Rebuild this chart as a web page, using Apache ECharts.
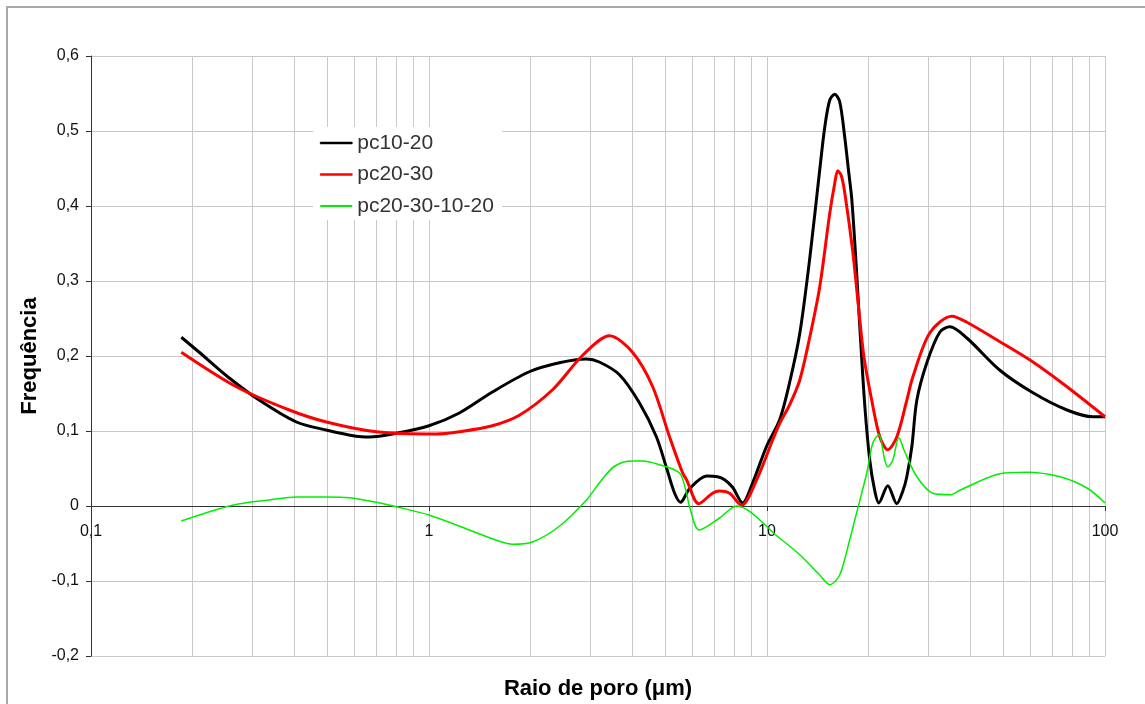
<!DOCTYPE html>
<html>
<head>
<meta charset="utf-8">
<script src="https://cdn.jsdelivr.net/npm/echarts@6/dist/echarts.min.js"></script>
<style>
html,body{margin:0;padding:0;background:#fff;}
#chart{width:1145px;height:704px;}
</style>
</head>
<body>
<div id="chart"></div>
<script>
// ---- data ----
var seriesNames = ['pc10-20', 'pc20-30', 'pc20-30-10-20'];

var blackX = [0.185,0.209,0.256,0.315,0.405,0.5,0.609,0.666,0.8,1.0,1.23,1.54,1.98,2.43,2.92,3.19,3.66,4.2,4.71,5.05,5.33,5.55,5.9,6.63,7.14,7.49,7.91,8.47,9.07,9.98,10.9,11.67,12.5,13.38,14.32,14.82,15.33,15.86,16.41,16.98,17.45,17.81,18.31,18.81,19.46,20.14,20.82,21.42,22.77,24.21,25.23,25.92,26.82,27.75,29.71,32.47,34.75,39.02,48.87,61.21,77.18,92.13,100];
var blackY = [0.225,0.205,0.171,0.141,0.112,0.101,0.093,0.092,0.097,0.107,0.124,0.152,0.179,0.191,0.196,0.192,0.175,0.137,0.092,0.05,0.017,0.005,0.023,0.040,0.039,0.035,0.025,0.004,0.031,0.08,0.115,0.165,0.23,0.33,0.448,0.505,0.541,0.549,0.539,0.492,0.445,0.41,0.33,0.24,0.135,0.061,0.021,0.004,0.027,0.003,0.02,0.039,0.079,0.141,0.191,0.232,0.239,0.224,0.181,0.151,0.128,0.119,0.119];

var redX = [0.185,0.269,0.386,0.497,0.698,1.051,1.23,1.54,1.85,2.32,2.85,3.42,4.0,4.59,5.15,5.63,5.78,6.28,6.9,7.24,7.75,8.41,9.32,10.39,10.9,11.67,12.5,13.38,14.32,15.33,15.86,16.19,16.6,16.98,17.93,18.56,19.34,20.41,21.57,22.77,24.21,25.92,27.0,30.33,35.23,39.02,48.87,61.21,77.18,100];
var redY = [0.205,0.159,0.128,0.112,0.099,0.096,0.099,0.107,0.121,0.155,0.201,0.227,0.205,0.159,0.092,0.044,0.035,0.003,0.017,0.02,0.017,0.001,0.035,0.088,0.11,0.135,0.168,0.225,0.292,0.39,0.43,0.447,0.44,0.418,0.34,0.275,0.2,0.141,0.092,0.075,0.092,0.141,0.172,0.231,0.253,0.245,0.219,0.192,0.159,0.119];

var greenX = [0.185,0.262,0.337,0.405,0.497,0.581,0.698,0.8,1.0,1.316,1.615,1.765,2.023,2.432,2.924,3.194,3.539,4.0,4.28,4.81,5.51,5.78,5.9,6.3,7.24,8.13,10.9,12.5,14.32,15.33,16.41,17.57,18.18,19.73,20.56,21.42,22.31,22.77,23.56,24.55,25.57,27.75,30.95,34.75,37.21,48.87,58.75,73.58,88.44,100];
var greenY = [-0.02,0.001,0.008,0.012,0.012,0.011,0.005,-0.001,-0.012,-0.032,-0.047,-0.051,-0.048,-0.027,0.008,0.031,0.053,0.06,0.06,0.055,0.044,0.017,-0.001,-0.032,-0.016,0.0,-0.043,-0.065,-0.092,-0.105,-0.092,-0.045,-0.019,0.044,0.084,0.095,0.061,0.052,0.061,0.091,0.072,0.039,0.017,0.015,0.021,0.043,0.045,0.039,0.024,0.004];

var xTickValues = [0.1, 1, 10, 100];
var xTickLabels = ['0,1', '1', '10', '100'];
var minorGridX = [0.2,0.3,0.4,0.5,0.6,0.7,0.8,0.9,2,3,4,5,6,7,8,9,20,30,40,50,60,70,80,90];
var yMin = -0.2, yMax = 0.6, yStep = 0.1;
var xTitle = 'Raio de poro (\u03bcm)';
var yTitle = 'Frequ\u00eancia';

function pairs(xs, ys) { return xs.map(function (x, i) { return [x, ys[i]]; }); }

var FONT = '"Liberation Sans", Arial, sans-serif';
var GRID_TOP = 56, GRID_BOTTOM = 48, GRID_H = 704 - GRID_TOP - GRID_BOTTOM;
// x axis drawn at the y = 0 line
var xAxisOffset = -GRID_H * (0 - yMin) / (yMax - yMin);

var chart = echarts.init(document.getElementById('chart'), null, { renderer: 'canvas' });

var option = {
  backgroundColor: '#ffffff',
  animation: false,
  grid: { left: 91, right: 40, top: GRID_TOP, bottom: GRID_BOTTOM, containLabel: false },
  legend: {
    z: 50,
    data: [
      { name: seriesNames[0], icon: 'rect', itemStyle: { color: '#000', borderColor: '#000', borderWidth: 0.5 } },
      { name: seriesNames[1], icon: 'rect', itemStyle: { color: '#ff0000', borderColor: '#ff0000', borderWidth: 0.5 } },
      { name: seriesNames[2], icon: 'rect', itemStyle: { color: '#00ee00', borderWidth: 0 } }
    ],
    orient: 'vertical',
    left: 313, top: 127,
    padding: [4, 8, 2, 7],
    backgroundColor: '#ffffff',
    itemWidth: 32, itemHeight: 2,
    itemGap: 7.5,
    textStyle: { fontSize: 21, color: '#333', fontFamily: FONT, lineHeight: 24 }
  },
  xAxis: {
    type: 'log', logBase: 10, min: 0.1, max: 100,
    offset: xAxisOffset,
    axisLine: { onZero: false, lineStyle: { color: '#333', width: 1 } },
    axisTick: { show: true, length: 5, inside: false, lineStyle: { color: '#333' } },
    axisLabel: {
      margin: 18, fontSize: 16, color: '#111', fontFamily: FONT,
      formatter: function (v) {
        for (var i = 0; i < xTickValues.length; i++) {
          if (Math.abs(Math.log10(v) - Math.log10(xTickValues[i])) < 1e-6) return xTickLabels[i];
        }
        return '';
      }
    },
    splitLine: { show: true, lineStyle: { color: '#c8c8c8', width: 1 } },
    minorTick: { show: false }
  },
  yAxis: {
    type: 'value', min: yMin, max: yMax, interval: yStep,
    axisLine: { show: true, lineStyle: { color: '#333', width: 1 } },
    axisTick: { show: true, length: 5, lineStyle: { color: '#333' } },
    axisLabel: {
      margin: 12, fontSize: 16, color: '#111', fontFamily: FONT,
      formatter: function (v) {
        var s = (Math.round(v * 10) / 10).toString();
        if (s === '-0') s = '0';
        return s.replace('.', ',');
      }
    },
    splitLine: { show: true, lineStyle: { color: '#c8c8c8', width: 1 } }
  },
  graphic: [
    { type: 'polyline', silent: true, z: 100,
      shape: { points: [[7, 704], [7, 7], [1145, 7]] },
      style: { stroke: '#a8a8a8', lineWidth: 2, fill: null } },
    { type: 'text', silent: true, x: 598, y: 689,
      style: { text: xTitle, font: 'bold 22px ' + FONT, fill: '#000', align: 'center', verticalAlign: 'middle' } },
    { type: 'text', silent: true, rotation: Math.PI / 2,
      x: 30, y: 356,
      style: { text: yTitle, font: 'bold 22px ' + FONT, fill: '#000', align: 'center', verticalAlign: 'middle' } }
  ],
  series: [
    {
      name: 'minorGrid', type: 'line', data: [], z: 0, silent: true,
      markLine: {
        z: 0,
        silent: true, symbol: ['none', 'none'], label: { show: false },
        lineStyle: { color: '#c8c8c8', type: 'solid', width: 1 },
        data: minorGridX.map(function (v) { return { xAxis: v }; }),
        animation: false
      }
    },
    {
      name: seriesNames[0], type: 'line', data: pairs(blackX, blackY),
      showSymbol: false, symbol: 'none', smooth: 0.3, z: 4,
      lineStyle: { color: '#000000', width: 3 }, itemStyle: { color: '#000000' }
    },
    {
      name: seriesNames[1], type: 'line', data: pairs(redX, redY),
      showSymbol: false, symbol: 'none', smooth: 0.3, z: 5,
      lineStyle: { color: '#ff0000', width: 3 }, itemStyle: { color: '#ff0000' }
    },
    {
      name: seriesNames[2], type: 'line', data: pairs(greenX, greenY),
      showSymbol: false, symbol: 'none', smooth: 0.3, z: 6,
      lineStyle: { color: '#00ee00', width: 1.5 }, itemStyle: { color: '#00ee00' }
    }
  ]
};
chart.setOption(option);
</script>
</body>
</html>
